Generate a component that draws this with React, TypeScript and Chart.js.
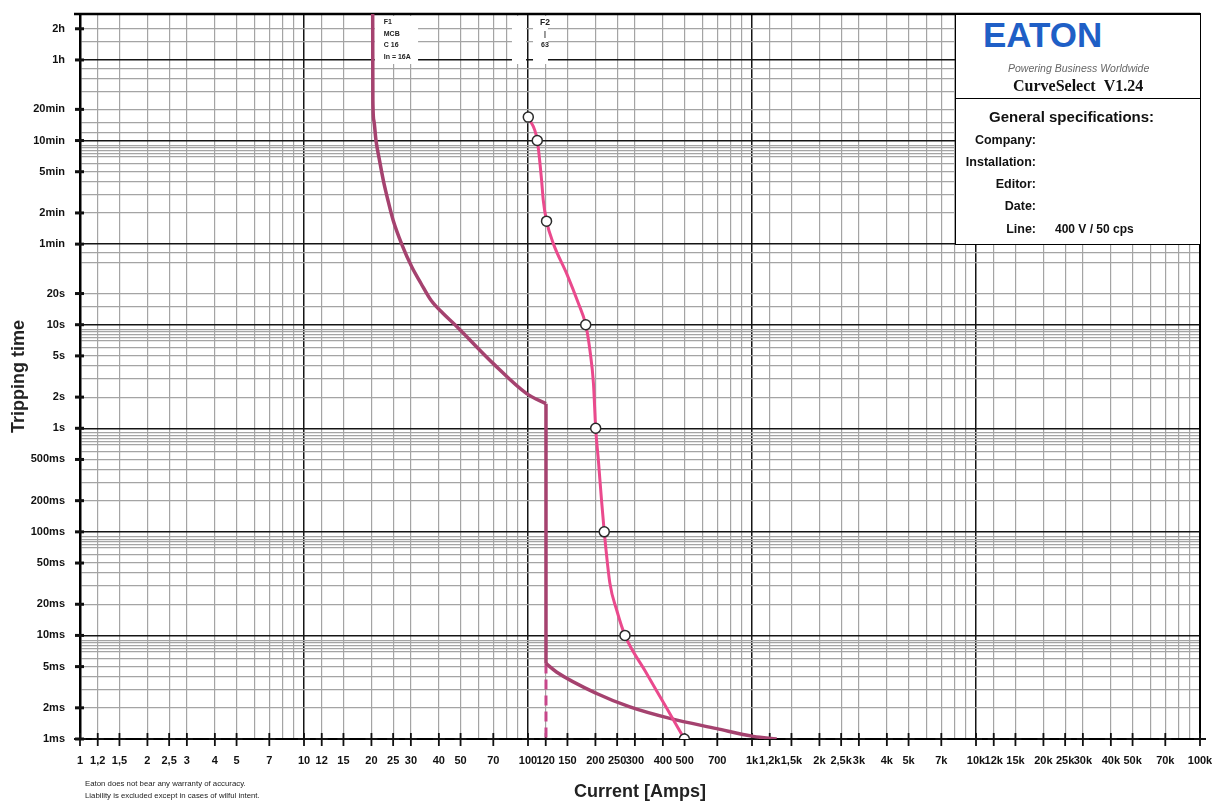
import React, { useEffect, useRef } from 'react';
import { Chart, registerables } from 'chart.js';

Chart.register(...registerables);

// ---------- Data ----------
// F2 (fuse 63) characteristic: current [A] / time [s]
const F2_CURRENT = [100.3, 110, 115, 117, 121, 130, 149, 168, 181, 189, 196, 200.5, 206, 213, 219, 232, 249, 271, 333, 409, 499];
const F2_TIME = [1010, 600, 248, 159, 100, 60, 31, 16, 10, 5.66, 2.7, 1, 0.5, 0.2, 0.1, 0.032, 0.0175, 0.01, 0.00456, 0.00212, 0.001];
const F2_MARKED = [true, true, false, false, true, false, false, false, true, false, false, true, false, false, true, false, false, true, false, false, true];

// F1 (MCB C16) characteristic
const F1_CURVE_CURRENT = [20.26, 20.3, 20.5, 20.96, 21.73, 22.6, 23.7, 25.0, 27.3, 30.3, 33.3, 36.9, 41.7, 47.2, 70, 98.6, 120.3];
const F1_CURVE_TIME = [10000, 1466, 940, 600, 386, 248, 159, 102, 60, 36, 25, 17.2, 12.9, 10, 4.21, 2.16, 1.73];
const F1_STEP_CURRENT = [120.3, 120.3];
const F1_STEP_TIME = [1.73, 0.00536];
const F1_INST_CURRENT = [120.3, 134, 202.6, 285, 430, 696, 1014, 1289];
const F1_INST_TIME = [0.00536, 0.00444, 0.00275, 0.00204, 0.00158, 0.00126, 0.00106, 0.001];
const F1_DASH_CURRENT = [120.3, 120.3];
const F1_DASH_TIME = [0.00536, 0.001];

// X axis grid / ticks
const X_GRID = [1, 1.2, 1.5, 2, 2.5, 3, 4, 5, 6, 7, 8, 9,
  10, 12, 15, 20, 25, 30, 40, 50, 60, 70, 80, 90,
  100, 120, 150, 200, 250, 300, 400, 500, 600, 700, 800, 900,
  1000, 1200, 1500, 2000, 2500, 3000, 4000, 5000, 6000, 7000, 8000, 9000,
  10000, 12000, 15000, 20000, 25000, 30000, 40000, 50000, 60000, 70000, 80000, 90000,
  100000];
const X_TICK_VALUES = [1, 1.2, 1.5, 2, 2.5, 3, 4, 5, 7,
  10, 12, 15, 20, 25, 30, 40, 50, 70,
  100, 120, 150, 200, 250, 300, 400, 500, 700,
  1000, 1200, 1500, 2000, 2500, 3000, 4000, 5000, 7000,
  10000, 12000, 15000, 20000, 25000, 30000, 40000, 50000, 70000, 100000];
const X_TICK_LABELS = ['1', '1,2', '1,5', '2', '2,5', '3', '4', '5', '7',
  '10', '12', '15', '20', '25', '30', '40', '50', '70',
  '100', '120', '150', '200', '250', '300', '400', '500', '700',
  '1k', '1,2k', '1,5k', '2k', '2,5k', '3k', '4k', '5k', '7k',
  '10k', '12k', '15k', '20k', '25k', '30k', '40k', '50k', '70k', '100k'];
const X_MAJOR = [1, 10, 100, 1000, 10000, 100000];

// Y axis grid / ticks (seconds)
const Y_GRID = [
  0.001, 0.002, 0.003, 0.004, 0.005, 0.006, 0.007, 0.0075, 0.008, 0.0085, 0.009,
  0.01, 0.02, 0.03, 0.04, 0.05, 0.06, 0.07, 0.075, 0.08, 0.085, 0.09,
  0.1, 0.2, 0.3, 0.4, 0.5, 0.6, 0.7, 0.75, 0.8, 0.85, 0.9,
  1, 2, 3, 4, 5, 6, 7, 7.5, 8, 8.5, 9,
  10, 15, 20, 40, 50,
  60, 120, 180, 240, 300, 360, 420, 450, 480, 510, 540,
  600, 720, 900, 1200, 1800, 2400, 3000,
  3600, 5400, 7200, 10000];
const Y_TICK_VALUES = [0.001, 0.002, 0.005, 0.01, 0.02, 0.05, 0.1, 0.2, 0.5, 1, 2, 5, 10, 20, 60, 120, 300, 600, 1200, 3600, 7200];
const Y_TICK_LABELS = ['1ms', '2ms', '5ms', '10ms', '20ms', '50ms', '100ms', '200ms', '500ms', '1s', '2s', '5s', '10s', '20s', '1min', '2min', '5min', '10min', '20min', '1h', '2h'];
const Y_MAJOR = [0.001, 0.01, 0.1, 1, 10, 60, 600, 3600, 10000];

// ---------- Styles ----------
const FONT = '"Liberation Sans", Arial, sans-serif';
const F1_COLOR = '#A5426F';
const F2_COLOR = '#EA4A8D';
const DASH_COLOR = '#C7468A';
const MINOR_GRID = '#a4a4a4';
const MAJOR_GRID = '#151515';

const toPoints = (xs: number[], ys: number[]) => xs.map((v, i) => ({ x: v, y: ys[i] }));

const zeroPadding = (scale: any) => {
  scale.paddingLeft = 0;
  scale.paddingRight = 0;
  scale.paddingTop = 0;
  scale.paddingBottom = 0;
};

const decorPlugin = {
  id: 'decor',
  beforeDatasetsDraw(chart: any) {
    const { ctx, chartArea: a, scales } = chart;
    const x = scales.x;
    const y = scales.y;
    ctx.save();

    // white label boxes for the device labels
    ctx.fillStyle = '#ffffff';
    const f1L = x.getPixelForValue(20.7);
    const f1R = x.getPixelForValue(32.3);
    ctx.fillRect(f1L, a.top + 2, f1R - f1L, 48);
    const f2aL = x.getPixelForValue(84.8);
    const f2aR = x.getPixelForValue(98);
    ctx.fillRect(f2aL, a.top + 2, f2aR - f2aL, 48);
    const f2L = x.getPixelForValue(105.3);
    const f2R = x.getPixelForValue(122.8);
    ctx.fillRect(f2L, a.top + 2, f2R - f2L, 48);

    // label texts
    ctx.fillStyle = '#222';
    ctx.textBaseline = 'middle';
    ctx.textAlign = 'left';
    ctx.font = `bold 7px ${FONT}`;
    const f1x = x.getPixelForValue(22.7);
    ['F1', 'MCB', 'C 16', 'In = 16A'].forEach((t, i) => {
      ctx.fillText(t, f1x, a.top + 8.5 + i * 11.5);
    });
    ctx.textAlign = 'center';
    const f2x = x.getPixelForValue(119);
    ctx.font = `bold 8.5px ${FONT}`;
    ctx.fillText('F2', f2x, a.top + 9);
    ctx.font = `bold 7px ${FONT}`;
    ctx.fillText('|', f2x, a.top + 20);
    ctx.fillText('63', f2x, a.top + 31.5);

    // frame: top and right borders
    ctx.strokeStyle = '#000';
    ctx.lineWidth = 2.5;
    ctx.beginPath();
    ctx.moveTo(a.left - 6, a.top);
    ctx.lineTo(a.right, a.top);
    ctx.stroke();
    ctx.lineWidth = 2;
    ctx.beginPath();
    ctx.moveTo(a.right, a.top);
    ctx.lineTo(a.right, a.bottom);
    ctx.stroke();

    // y tick dashes
    ctx.lineWidth = 3;
    ctx.strokeStyle = '#111';
    Y_TICK_VALUES.forEach((v) => {
      const py = y.getPixelForValue(v);
      ctx.beginPath();
      ctx.moveTo(a.left - 5, py);
      ctx.lineTo(a.left + 4, py);
      ctx.stroke();
    });

    // x axis crosses
    ctx.lineWidth = 1.8;
    X_TICK_VALUES.forEach((v) => {
      const px = x.getPixelForValue(v);
      ctx.beginPath();
      ctx.moveTo(px - 6, a.bottom);
      ctx.lineTo(px + 6, a.bottom);
      ctx.moveTo(px, a.bottom - 6);
      ctx.lineTo(px, a.bottom + 7);
      ctx.stroke();
    });
    ctx.restore();
  },
};

export default function App() {
  const ref = useRef<HTMLCanvasElement>(null);

  useEffect(() => {
    const canvas = ref.current;
    if (!canvas) return;
    const chart = new Chart(canvas, {
      type: 'line',
      data: {
        datasets: [
          {
            label: 'F2',
            data: toPoints(F2_CURRENT, F2_TIME),
            borderColor: F2_COLOR,
            borderWidth: 3,
            cubicInterpolationMode: 'monotone',
            pointRadius: (c: any) => (F2_MARKED[c.dataIndex] ? 5 : 0),
            pointBackgroundColor: '#ffffff',
            pointBorderColor: '#2a2a2a',
            pointBorderWidth: 1.5,
            fill: false,
          },
          {
            label: 'F1',
            data: toPoints(F1_CURVE_CURRENT, F1_CURVE_TIME),
            borderColor: F1_COLOR,
            borderWidth: 3.5,
            cubicInterpolationMode: 'monotone',
            pointRadius: 0,
            fill: false,
          },
          {
            label: 'F1 step',
            data: toPoints(F1_STEP_CURRENT, F1_STEP_TIME),
            borderColor: F1_COLOR,
            borderWidth: 3.5,
            tension: 0,
            pointRadius: 0,
            fill: false,
          },
          {
            label: 'F1 instantaneous',
            data: toPoints(F1_INST_CURRENT, F1_INST_TIME),
            borderColor: F1_COLOR,
            borderWidth: 3.5,
            cubicInterpolationMode: 'monotone',
            pointRadius: 0,
            fill: false,
          },
          {
            label: 'F1 dashed',
            data: toPoints(F1_DASH_CURRENT, F1_DASH_TIME),
            borderColor: DASH_COLOR,
            borderWidth: 3,
            borderDash: [10, 6],
            tension: 0,
            pointRadius: 0,
            fill: false,
          },
        ],
      },
      options: {
        animation: false,
        responsive: false,
        devicePixelRatio: 1,
        parsing: false,
        layout: { padding: { top: 14, right: 13, left: 0, bottom: 0 } },
        plugins: {
          legend: { display: false },
          tooltip: { enabled: false },
        },
        scales: {
          x: {
            type: 'logarithmic',
            position: 'bottom',
            min: 1,
            max: 100000,
            afterBuildTicks: (scale: any) => {
              scale.ticks = X_GRID.map((v) => ({ value: v }));
            },
            afterFit: (scale: any) => {
              scale.height = 64;
              zeroPadding(scale);
            },
            ticks: {
              autoSkip: false,
              maxRotation: 0,
              minRotation: 0,
              padding: 15,
              color: '#111',
              font: { family: FONT, size: 11, weight: 'bold' },
              callback: (value: any) => {
                const i = X_TICK_VALUES.indexOf(value);
                return i >= 0 ? X_TICK_LABELS[i] : '';
              },
            },
            grid: {
              drawTicks: false,
              color: (c: any) => (X_MAJOR.includes(c.tick?.value) ? MAJOR_GRID : MINOR_GRID),
              lineWidth: (c: any) => (X_MAJOR.includes(c.tick?.value) ? 1.5 : 1.2),
            },
            border: { display: true, color: '#000', width: 2 },
            title: {
              display: true,
              text: 'Current [Amps]',
              color: '#222',
              font: { family: FONT, size: 18, weight: 'bold' },
              padding: { top: 0, bottom: 0 },
            },
          },
          y: {
            type: 'logarithmic',
            position: 'left',
            min: 0.001,
            max: 10000,
            afterBuildTicks: (scale: any) => {
              scale.ticks = Y_GRID.map((v) => ({ value: v }));
            },
            afterFit: (scale: any) => {
              scale.width = 80;
              zeroPadding(scale);
            },
            ticks: {
              autoSkip: false,
              padding: 15,
              color: '#111',
              font: { family: FONT, size: 11, weight: 'bold' },
              callback: (value: any) => {
                const i = Y_TICK_VALUES.indexOf(value);
                return i >= 0 ? Y_TICK_LABELS[i] : '';
              },
            },
            grid: {
              drawTicks: false,
              color: (c: any) => (Y_MAJOR.includes(c.tick?.value) ? MAJOR_GRID : MINOR_GRID),
              lineWidth: (c: any) => (Y_MAJOR.includes(c.tick?.value) ? 1.5 : 1.2),
            },
            border: { display: true, color: '#000', width: 2.5 },
            title: {
              display: true,
              text: 'Tripping time',
              color: '#222',
              font: { family: FONT, size: 18, weight: 'bold' },
              padding: { top: 8, bottom: 0 },
            },
          },
        },
      },
      plugins: [decorPlugin],
    } as any);
    return () => chart.destroy();
  }, []);

  const abs = (left: number, top: number, extra: any = {}) => ({
    position: 'absolute' as const,
    left,
    top,
    whiteSpace: 'nowrap' as const,
    lineHeight: 1,
    ...extra,
  });

  return (
    <div
      style={{
        position: 'absolute',
        left: 0,
        top: 0,
        width: 1213,
        height: 803,
        overflow: 'hidden',
        background: '#fff',
        fontFamily: FONT,
      }}
    >
      <canvas ref={ref} width={1213} height={803} style={{ position: 'absolute', left: 0, top: 0, width: 1213, height: 803 }} />

      {/* Eaton specification box */}
      <div
        style={{
          position: 'absolute',
          left: 955,
          top: 13,
          width: 246,
          height: 232,
          background: '#fff',
          border: '1.5px solid #000',
          borderTopWidth: 2.5,
          boxSizing: 'border-box',
        }}
      />
      <div style={{ position: 'absolute', left: 955, top: 98, width: 245, height: 0, borderTop: '1.5px solid #000' }} />
      <div style={abs(983, 16.5, { fontSize: 35, fontWeight: 'bold', color: '#1F5FC6', letterSpacing: 0 })}>EATON</div>
      <div style={abs(1008, 63, { fontSize: 10.5, fontStyle: 'italic', color: '#666' })}>Powering Business Worldwide</div>
      <div style={abs(1013, 78, { fontSize: 16, fontWeight: 'bold', color: '#111', fontFamily: '"Liberation Serif", "Times New Roman", serif' })}>
        CurveSelect&nbsp;&nbsp;V1.24
      </div>
      <div style={abs(989, 109.3, { fontSize: 15, fontWeight: 'bold', color: '#111' })}>General specifications:</div>
      {[
        ['Company:', 139.7],
        ['Installation:', 161.7],
        ['Editor:', 184],
        ['Date:', 206],
        ['Line:', 228.7],
      ].map(([t, cy]) => (
        <div
          key={t as string}
          style={abs(900, (cy as number) - 6.2, { width: 136, textAlign: 'right', fontSize: 12.5, fontWeight: 'bold', color: '#111' })}
        >
          {t}
        </div>
      ))}
      <div style={abs(1055, 222.8, { fontSize: 12, fontWeight: 'bold', color: '#111' })}>400 V / 50 cps</div>

      {/* disclaimer */}
      <div style={abs(85, 780, { fontSize: 7.8, color: '#222' })}>Eaton does not bear any warranty of accuracy.</div>
      <div style={abs(85, 792, { fontSize: 7.8, color: '#222' })}>Liability is excluded except in cases of wilful intent.</div>
    </div>
  );
}
